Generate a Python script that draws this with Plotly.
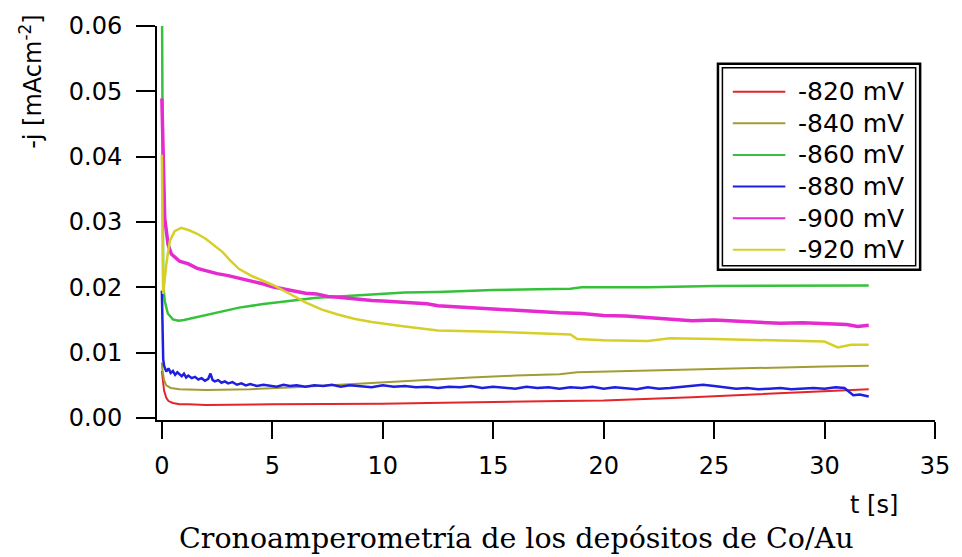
import plotly.graph_objects as go

# Chronoamperometry of Co/Au deposits: current density vs time at six potentials
labels = ["-820 mV", "-840 mV", "-860 mV", "-880 mV", "-900 mV", "-920 mV"]
colors = ["#e3262a", "#a29c35", "#35c23a", "#1f1fe0", "#e52ad0", "#d6cf28"]
widths = [2, 2, 2.5, 2.5, 3.5, 2.5]

t_820 = [0, 0.05, 0.1, 0.2, 0.3, 0.5, 0.8, 1.2, 2, 5, 8, 10, 12, 15, 18, 20, 22, 24, 26, 28, 30, 32]
j_820 = [0.0072, 0.0055, 0.0042, 0.0031, 0.0026, 0.0023, 0.0021, 0.0021, 0.0020, 0.0021, 0.0021,
         0.0022, 0.0023, 0.0024, 0.0026, 0.0027, 0.0029, 0.0032, 0.0035, 0.0038, 0.0041, 0.0044]

t_840 = [0, 0.02, 0.1, 0.2, 0.4, 0.8, 2, 4, 6, 8, 10, 12, 14, 16, 18, 18.8, 20, 22, 24, 26, 28, 30, 32]
j_840 = [0.0085, 0.0075, 0.0058, 0.0050, 0.0046, 0.0044, 0.0043, 0.0044, 0.0047, 0.0051, 0.0055,
         0.0059, 0.0062, 0.0065, 0.0067, 0.0070, 0.0071, 0.0073, 0.0075, 0.0076, 0.0078, 0.0079, 0.0080]

t_860 = [0, 0.03, 0.06, 0.13, 0.27, 0.5, 0.75, 1.0, 1.5, 2, 3, 3.5, 4.5, 5.5, 6.2, 7, 8, 9, 10, 11,
         12.5, 15, 17, 18.5, 19, 22, 25, 28, 32]
j_860 = [0.0700, 0.0350, 0.0205, 0.0179, 0.0160, 0.0151, 0.0149, 0.0150, 0.0154, 0.0158, 0.0165,
         0.0169, 0.0174, 0.0178, 0.0181, 0.0184, 0.0186, 0.0188, 0.0190, 0.0192, 0.0193, 0.0196,
         0.0197, 0.0198, 0.0200, 0.0200, 0.0202, 0.0202, 0.0203]

t_880 = [0, 0.03, 0.06, 0.1, 0.15, 0.2, 0.3, 0.4, 0.5, 0.6, 0.7, 0.8, 0.9, 1.0, 1.1, 1.2, 1.35, 1.5,
         1.65, 1.8, 1.95, 2.1, 2.2, 2.3, 2.4, 2.55, 2.7, 2.85, 3.0, 3.2, 3.4, 3.6, 3.8, 4.0, 4.3,
         4.6, 4.9, 5.2, 5.5, 5.8, 6.1, 6.5, 6.9, 7.3, 7.7, 8.1, 8.5, 9, 9.5, 10, 10.5, 11, 11.5,
         12, 12.5, 13, 13.5, 14, 14.5, 15, 15.5, 16, 16.5, 17, 17.5, 18, 18.5, 19, 19.5, 20, 20.5,
         21, 21.5, 22, 22.5, 23, 23.5, 24, 24.5, 25, 25.5, 26, 26.5, 27, 27.5, 28, 28.5, 29, 29.5,
         30, 30.5, 30.9, 31.1, 31.3, 31.6, 32]
j_880 = [0.0195, 0.0120, 0.0090, 0.0080, 0.0074, 0.0071, 0.0076, 0.0069, 0.0072, 0.0066, 0.0070,
         0.0067, 0.0064, 0.0068, 0.0062, 0.0065, 0.0061, 0.0063, 0.0059, 0.0061, 0.0057, 0.0060,
         0.0068, 0.0058, 0.0056, 0.0058, 0.0054, 0.0056, 0.0053, 0.0055, 0.0051, 0.0053, 0.0050,
         0.0052, 0.0049, 0.0051, 0.0050, 0.0048, 0.0051, 0.0049, 0.0050, 0.0048, 0.0050, 0.0049,
         0.0051, 0.0048, 0.0050, 0.0049, 0.0047, 0.0050, 0.0048, 0.0049, 0.0047, 0.0048, 0.0046,
         0.0048, 0.0047, 0.0049, 0.0046, 0.0048, 0.0047, 0.0045, 0.0048, 0.0046, 0.0047, 0.0045,
         0.0047, 0.0046, 0.0048, 0.0045, 0.0047, 0.0046, 0.0044, 0.0047, 0.0045, 0.0046, 0.0048,
         0.0050, 0.0051, 0.0049, 0.0047, 0.0045, 0.0046, 0.0044, 0.0045, 0.0046, 0.0044, 0.0045,
         0.0046, 0.0045, 0.0047, 0.0046, 0.0040, 0.0035, 0.0036, 0.0033]

t_900 = [0, 0.03, 0.06, 0.13, 0.28, 0.43, 0.8, 1.2, 1.6, 2.0, 2.5, 3.0, 3.5, 4.0, 4.5, 5.0, 5.5,
         6.0, 6.5, 7.0, 7.5, 8.0, 8.5, 9.0, 9.5, 10, 11, 12, 12.5, 13, 14, 15, 16, 17, 18, 19, 20,
         21, 22, 23, 24, 25, 26, 27, 28, 29, 30, 31, 31.5, 32]
j_900 = [0.0489, 0.0440, 0.0383, 0.0306, 0.0266, 0.0251, 0.0240, 0.0236, 0.0229, 0.0225, 0.0221,
         0.0218, 0.0214, 0.0211, 0.0206, 0.0201, 0.0198, 0.0195, 0.0191, 0.0190, 0.0186, 0.0185,
         0.0183, 0.0182, 0.0180, 0.0179, 0.0177, 0.0175, 0.0172, 0.0171, 0.0169, 0.0167, 0.0164,
         0.0163, 0.0161, 0.0160, 0.0157, 0.0156, 0.0154, 0.0152, 0.0149, 0.0150, 0.0148, 0.0147,
         0.0145, 0.0146, 0.0144, 0.0143, 0.0140, 0.0142]

t_920 = [0, 0.03, 0.06, 0.2, 0.36, 0.58, 0.88, 1.26, 1.6, 2.0, 2.4, 2.75, 3.1, 3.5, 4.1, 4.6, 5.0,
         5.74, 6.5, 7.25, 8, 8.7, 9.5, 11, 12.5, 15, 17, 18.5, 18.8, 20, 22, 23, 25, 28, 30, 30.6,
         31.2, 32]
j_920 = [0.0403, 0.0280, 0.0190, 0.0235, 0.0271, 0.0286, 0.0291, 0.0287, 0.0282, 0.0274, 0.0264,
         0.0254, 0.0241, 0.0228, 0.0217, 0.0210, 0.0204, 0.0191, 0.0177, 0.0166, 0.0158, 0.0152,
         0.0147, 0.0140, 0.0134, 0.0132, 0.0130, 0.0128, 0.0121, 0.0119, 0.0118, 0.0122, 0.0121,
         0.0119, 0.0117, 0.0108, 0.0112, 0.0112]

series_t = [t_820, t_840, t_860, t_880, t_900, t_920]
series_j = [j_820, j_840, j_860, j_880, j_900, j_920]

x_ticks = [0, 5, 10, 15, 20, 25, 30, 35]
y_ticks = [0.00, 0.01, 0.02, 0.03, 0.04, 0.05, 0.06]

W, H = 962, 557
L, R, T, B = 157, 942, 24, 420
FONT = "DejaVu Sans"


def px(x):
    return (x - L) / (R - L)


def py(y):
    return (B - y) / (B - T)


fig = go.Figure()
for t, j, name, c, w in zip(series_t, series_j, labels, colors, widths):
    fig.add_trace(go.Scatter(x=t, y=j, mode="lines", name=name,
                             line=dict(color=c, width=w), showlegend=False))

axis_common = dict(showline=True, linecolor="black", linewidth=2, ticks="outside",
                   tickcolor="black", tickwidth=2, showgrid=False, zeroline=False,
                   tickfont=dict(family=FONT, size=24, color="black"))

fig.update_xaxes(range=[-0.22, 35], tickvals=x_ticks, ticklen=17, ticklabelstandoff=6,
                 **axis_common)
fig.update_yaxes(range=[-0.0003, 0.06], tickvals=y_ticks, tickformat=".2f", ticklen=19,
                 ticklabelstandoff=9, **axis_common)

shapes = []
annotations = []

# Legend box with a double frame
shapes.append(dict(type="rect", xref="paper", yref="paper", x0=px(723), x1=px(927),
                   y0=py(62), y1=py(269), line=dict(color="black", width=2.5),
                   fillcolor="white", layer="above"))
shapes.append(dict(type="rect", xref="paper", yref="paper", x0=px(727.5), x1=px(922.5),
                   y0=py(66), y1=py(265), line=dict(color="black", width=1.5), layer="above"))

for i, (name, c) in enumerate(zip(labels, colors)):
    yc = 90 + i * 31.8
    shapes.append(dict(type="line", xref="paper", yref="paper", x0=px(738), x1=px(791),
                       y0=py(yc), y1=py(yc), line=dict(color=c, width=2), layer="above"))
    annotations.append(dict(text=name, xref="paper", yref="paper", x=px(802), y=py(yc),
                            xanchor="left", yanchor="middle", showarrow=False,
                            font=dict(family=FONT, size=25, color="black")))

annotations.append(dict(text="-j [mAcm<sup>-2</sup>]", xref="paper", yref="paper",
                        x=px(30), y=py(80), textangle=-90, xanchor="center", yanchor="middle",
                        showarrow=False, font=dict(family=FONT, size=24, color="black")))
annotations.append(dict(text="t [s]", xref="paper", yref="paper", x=px(880), y=py(505),
                        xanchor="center", yanchor="middle", showarrow=False,
                        font=dict(family=FONT, size=24, color="black")))
annotations.append(dict(text="Cronoamperometría de los depósitos de Co/Au", xref="paper",
                        yref="paper", x=px(520), y=py(539), xanchor="center", yanchor="middle",
                        showarrow=False, font=dict(family="DejaVu Serif", size=28.5, color="black")))

fig.update_layout(width=W, height=H, margin=dict(l=L, r=W - R, t=T, b=H - B, pad=0),
                  paper_bgcolor="white", plot_bgcolor="white", shapes=shapes,
                  annotations=annotations, showlegend=False)

fig.write_html("out.html")
